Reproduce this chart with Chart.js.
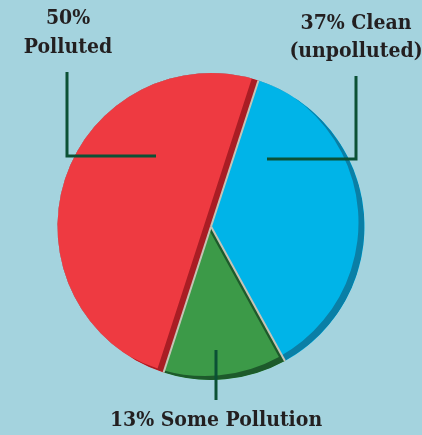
<!DOCTYPE html>
<html>
<head>
<meta charset="utf-8">
<script src="https://cdn.jsdelivr.net/npm/chart.js@4/dist/chart.umd.min.js"></script>
<style>
  html, body { margin: 0; padding: 0; background: #a4d3de; }
  #wrap { width: 422px; height: 435px; position: relative; }
</style>
</head>
<body>
<div id="wrap"><canvas id="myChart"></canvas></div>
<script>
"use strict";

// data for the pie
const labels = ['Polluted', 'Clean (unpolluted)', 'Some Pollution'];
const values = [50, 37, 13];
const sliceColors = ['#ee3a41', '#00b4e8', '#3c9a48'];
const rimColors = ['#a91d24', '#0a7fa6', '#1d5a2b'];

// label texts and leader lines (canvas coordinates)
const labelTexts = [
  { lines: ['50%', 'Polluted'], x: 68, y: [19, 48] },
  { lines: ['37% Clean', '(unpolluted)'], x: 356, y: [24, 52] },
  { lines: ['13% Some Pollution'], x: 216, y: [421] }
];
const leaders = [
  [[67, 72], [67, 156], [156, 156]],
  [[356, 76], [356, 159], [267, 159]],
  [[216, 350], [216, 400]]
];

// path of one slice, moved by dx/dy
function slicePath(ctx, arc, dx, dy) {
  const p = arc.getProps(['x', 'y', 'startAngle', 'endAngle', 'outerRadius']);
  const cx = p.x + dx;
  const cy = p.y + dy;
  ctx.moveTo(cx, cy);
  ctx.arc(cx, cy, p.outerRadius, p.startAngle, p.endAngle);
  ctx.closePath();
}

// darker bevel on the lower right edges of every slice + thin grey seams
const rimPlugin = {
  id: 'rim',
  afterDatasetsDraw(chart) {
    const ctx = chart.ctx;
    const arcs = chart.getDatasetMeta(0).data;
    arcs.forEach((arc, i) => {
      ctx.save();
      ctx.beginPath();
      slicePath(ctx, arc, 0, 0);
      ctx.clip();
      ctx.beginPath();
      slicePath(ctx, arc, 0, 0);
      slicePath(ctx, arc, -6, -4);
      ctx.fillStyle = rimColors[i];
      ctx.fill('evenodd');
      ctx.restore();
    });
    ctx.save();
    ctx.strokeStyle = '#c6c3b5';
    ctx.lineWidth = 2;
    arcs.forEach(arc => {
      const p = arc.getProps(['x', 'y', 'startAngle', 'outerRadius']);
      ctx.beginPath();
      ctx.moveTo(p.x, p.y);
      ctx.lineTo(p.x + Math.cos(p.startAngle) * p.outerRadius, p.y + Math.sin(p.startAngle) * p.outerRadius);
      ctx.stroke();
    });
    ctx.restore();
  }
};

const labelPlugin = {
  id: 'labels',
  afterDraw(chart) {
    const ctx = chart.ctx;
    ctx.save();
    ctx.strokeStyle = '#0b5135';
    ctx.lineWidth = 3;
    leaders.forEach(pts => {
      ctx.beginPath();
      pts.forEach((pt, j) => j ? ctx.lineTo(pt[0], pt[1]) : ctx.moveTo(pt[0], pt[1]));
      ctx.stroke();
    });
    ctx.fillStyle = '#231f20';
    ctx.font = 'bold 21px "DejaVu Serif Condensed", "DejaVu Serif"';
    ctx.textAlign = 'center';
    ctx.textBaseline = 'middle';
    labelTexts.forEach(l => {
      l.lines.forEach((t, j) => ctx.fillText(t, l.x, l.y[j]));
    });
    ctx.restore();
  }
};

new Chart(document.getElementById('myChart'), {
  type: 'pie',
  data: {
    labels: labels,
    datasets: [{
      data: values,
      backgroundColor: sliceColors,
      borderWidth: 0
    }]
  },
  options: {
    responsive: true,
    maintainAspectRatio: false,
    animation: false,
    rotation: 198,
    layout: { padding: { left: 57, right: 57, top: 73, bottom: 55 } },
    plugins: {
      legend: { display: false },
      tooltip: { enabled: false }
    }
  },
  plugins: [rimPlugin, labelPlugin]
});
</script>
</body>
</html>
